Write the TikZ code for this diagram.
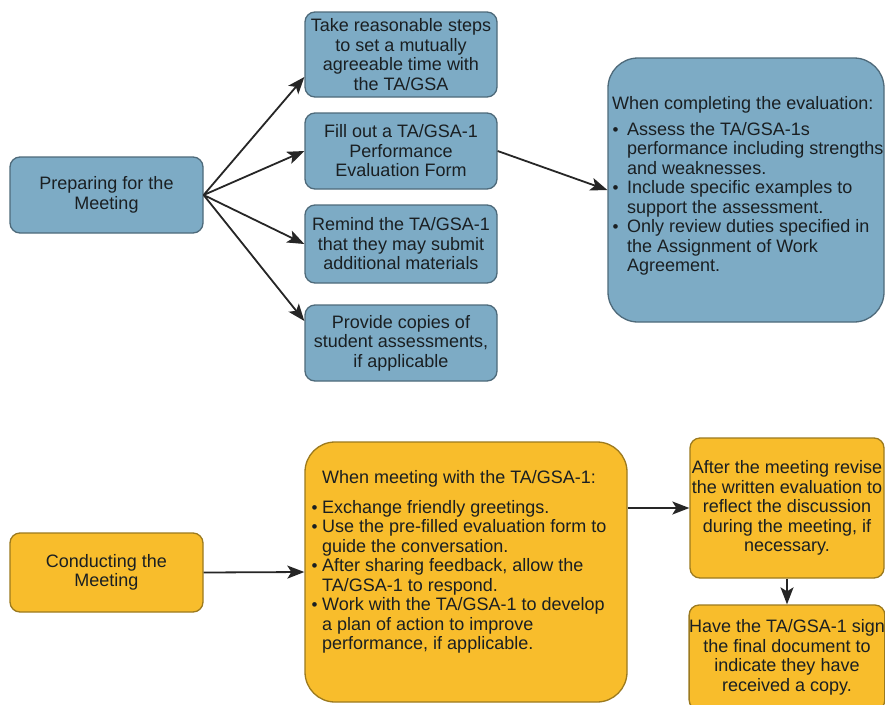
\documentclass[tikz,border=0pt]{standalone}
\usepackage{fontspec}
\setmainfont{Liberation Sans}
\usetikzlibrary{arrows.meta}
\definecolor{bfill}{HTML}{7DABC5}
\definecolor{bdraw}{HTML}{4E6A7A}
\definecolor{yfill}{HTML}{F8BD2C}
\definecolor{ydraw}{HTML}{9C7A1E}
\definecolor{txt}{HTML}{1A1F22}
\newcommand{\bulA}{\makebox[15pt][l]{\hspace*{0.5pt}\raisebox{0.3pt}{\fontsize{17}{17}\selectfont •}}}
\newcommand{\indA}{\hspace*{15pt}}
\newcommand{\bulB}{\makebox[10pt][l]{\hspace*{-0.5pt}\raisebox{0.3pt}{\fontsize{17}{17}\selectfont •}}}
\newcommand{\indB}{\hspace*{10pt}}
\begin{document}
\begin{tikzpicture}[x=1pt,y=-1pt,
  box/.style={draw, line width=1.3pt, rounded corners=10pt, inner sep=0pt,
    align=center, font=\fontsize{18}{19.5}\selectfont, text=txt},
  bluebox/.style={box, fill=bfill, draw=bdraw},
  yelbox/.style={box, fill=yfill, draw=ydraw},
  bodytext/.style={inner sep=0pt, align=left, font=\fontsize{18}{19.5}\selectfont, text=txt, anchor=west},
  conn/.style={line width=1.8pt, draw=black!85, -{Stealth[length=17pt,width=13pt,inset=4pt]}}]
\useasboundingbox (0,0) rectangle (885,704);
\clip (0,0) rectangle (885,704);
\fill[white] (0,0) rectangle (885,704);

% ---- top: preparing ----
\node[bluebox, minimum width=193pt, minimum height=76pt] (prep) at (106.5,195) {Preparing for the\\Meeting};
\node[bluebox, minimum width=192pt, minimum height=85pt] (b1) at (401,54.5) {Take reasonable steps\\to set a mutually\\agreeable time with\\the TA/GSA};
\node[bluebox, minimum width=192pt, minimum height=76pt] (b2) at (401,151) {Fill out a TA/GSA-1\\Performance\\Evaluation Form};
\node[bluebox, minimum width=192pt, minimum height=78pt] (b3) at (401,244) {Remind the TA/GSA-1\\that they may submit\\additional materials};
\node[bluebox, minimum width=192pt, minimum height=76pt] (b4) at (401,343) {Provide copies of\\student assessments,\\if applicable};
\node[bluebox, rounded corners=30pt, minimum width=276pt, minimum height=264pt] (eval) at (746,190) {};
\node[bodytext] (evaltxt) at (612,186) {When completing the evaluation:\\[6.5pt]
\bulA Assess the TA/GSA-1s\\
\indA performance including strengths\\
\indA and weaknesses.\\
\bulA Include specific examples to\\
\indA support the assessment.\\
\bulA Only review duties specified in\\
\indA the Assignment of Work\\
\indA Agreement.};

\coordinate (t1) at ([yshift=-22.5pt]b1.west);
\coordinate (t4) at ([yshift=22pt]b4.west);
\draw[conn] (prep.east) -- (t1);
\draw[conn] (prep.east) -- (b2.west);
\draw[conn] (prep.east) -- (b3.west);
\draw[conn] (prep.east) -- (t4);
\draw[conn] (b2.east) -- (eval.west);

% ---- bottom: conducting ----
\node[yelbox, minimum width=193pt, minimum height=79pt] (cond) at (106.5,572.5) {Conducting the\\Meeting};
\node[yelbox, rounded corners=30pt, minimum width=322pt, minimum height=260pt] (meet) at (466,572) {};
\node[bodytext] (meettxt) at (312,562) {\indB When meeting with the TA/GSA-1:\\[10.5pt]
\bulB Exchange friendly greetings.\\
\bulB Use the pre-filled evaluation form to\\
\indB guide the conversation.\\
\bulB After sharing feedback, allow the\\
\indB TA/GSA-1 to respond.\\
\bulB Work with the TA/GSA-1 to develop\\
\indB a plan of action to improve\\
\indB performance, if applicable.};
\node[yelbox, minimum width=194pt, minimum height=140pt] (after) at (787,508) {After the meeting revise\\the written evaluation to\\reflect the discussion\\during the meeting, if\\necessary.};
\node[yelbox, minimum width=194pt, minimum height=105pt] (have) at (787,657.5) {Have the TA/GSA-1 sign\\the final document to\\indicate they have\\received a copy.};

\draw[conn] (cond.east) -- (meet.west);
\draw[conn] (meet.east |- after.west) -- (after.west);
\draw[conn] (after.south) -- (have.north);
\end{tikzpicture}
\end{document}
